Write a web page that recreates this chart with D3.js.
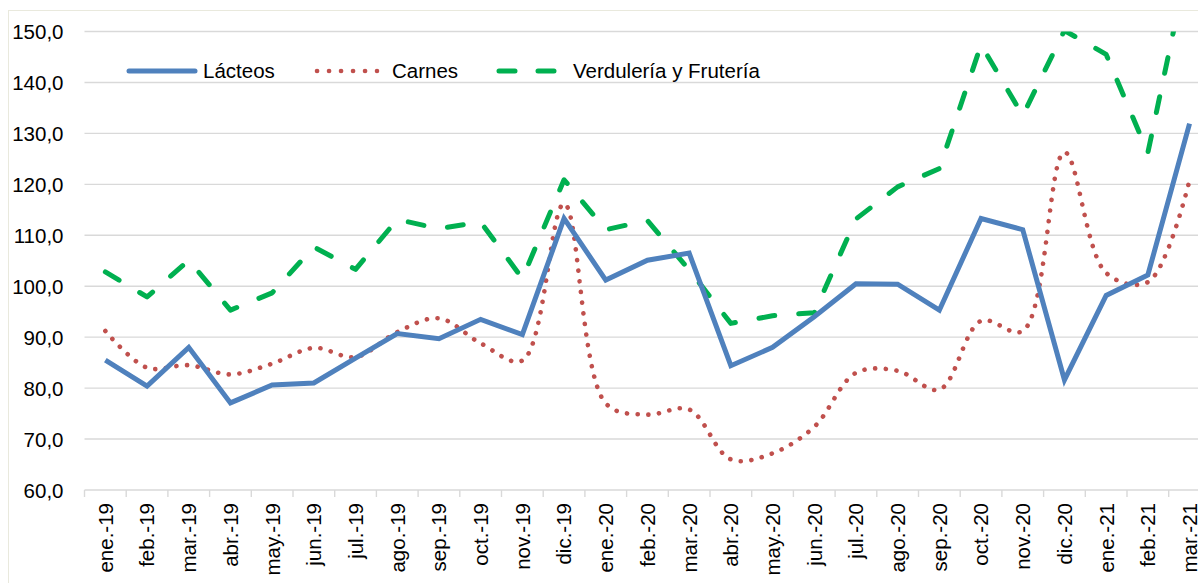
<!DOCTYPE html>
<html>
<head>
<meta charset="utf-8">
<script src="https://cdn.jsdelivr.net/npm/d3@7"></script>
<style>
  html, body { margin: 0; padding: 0; background: #fff; overflow: hidden; }
  svg { display: block; font-family: "Liberation Sans", Arial, Helvetica, sans-serif; }
</style>
</head>
<body>
<svg id="chart" width="1198" height="583"></svg>
<script>
const categories = ["ene.-19","feb.-19","mar.-19","abr.-19","may.-19","jun.-19","jul.-19","ago.-19","sep.-19","oct.-19","nov.-19","dic.-19",
  "ene.-20","feb.-20","mar.-20","abr.-20","may.-20","jun.-20","jul.-20","ago.-20","sep.-20","oct.-20","nov.-20","dic.-20",
  "ene.-21","feb.-21","mar.-21"];
const lacteos = [85.5, 80.4, 88.0, 77.1, 80.6, 81.0, 85.9, 90.7, 89.7, 93.5, 90.5, 113.3,
  101.2, 105.1, 106.5, 84.4, 88.0, 94.0, 100.5, 100.4, 95.3, 113.3, 111.1, 81.6,
  98.2, 102.2, 131.9];
const carnes = [91.2, 84.0, 84.5, 82.7, 84.8, 87.9, 86.1, 91.0, 93.7, 88.8, 85.4, 116.2,
  77.0, 74.8, 75.8, 66.0, 67.2, 72.4, 83.0, 83.4, 79.7, 93.2, 91.2, 126.3,
  102.6, 100.8, 120.8];
const verduleria = [102.8, 97.9, 105.1, 95.3, 98.7, 107.7, 103.3, 113.1, 111.3, 112.6, 101.5, 120.9,
  111.1, 112.9, 103.2, 92.7, 94.2, 94.8, 113.2, 119.5, 123.1, 147.4, 133.5, 150.2,
  145.5, 126.2, 165.0];
const yTicks = [60, 70, 80, 90, 100, 110, 120, 130, 140, 150];
const seriesNames = ["Lácteos", "Carnes", "Verdulería y Frutería"];

(function () {
const svg = d3.select("#chart");
const pLeft = 84.5, pTop = 31.5, pBottom = 490, pRight = 84.5 + 41.7 * categories.length;
const FONT = "20.5px";

// outer chart border
svg.append("rect").attr("x", 8.5).attr("y", 10.5).attr("width", 1300).attr("height", 700)
  .attr("fill", "none").attr("stroke", "#e9e9dd").attr("stroke-width", 1);

const x = d3.scaleBand().domain(categories).range([pLeft, pRight]).padding(0);
const y = d3.scaleLinear().domain([60, 150]).range([pBottom, pTop]);
const fmt = v => d3.format(".1f")(v).replace(".", ",");

// gridlines
svg.append("g").selectAll("line").data(yTicks.slice(1)).join("line")
  .attr("x1", pLeft).attr("x2", pRight)
  .attr("y1", d => y(d)).attr("y2", d => y(d))
  .attr("stroke", "#d9d9d9").attr("stroke-width", 1.4);

// y labels
const yAxis = d3.axisLeft(y).tickValues(yTicks).tickFormat(fmt).tickSize(0).tickPadding(0);
const gy = svg.append("g").attr("transform", `translate(${pLeft - 21},0)`).call(yAxis);
gy.select(".domain").remove();
gy.selectAll("text").attr("font-size", FONT).attr("fill", "#000")
  .attr("font-family", '"Liberation Sans", Arial, sans-serif').attr("dy", "0.35em");

// x axis
const xAxis = d3.axisBottom(x).tickSize(0).tickPadding(0);
const gx = svg.append("g").attr("transform", `translate(0,${pBottom})`).call(xAxis);
gx.select(".domain").attr("stroke", "#d9d9d9").attr("stroke-width", 1.4).attr("d", `M${pLeft},0H${pRight}`);
gx.selectAll(".tick text")
  .attr("font-size", FONT).attr("fill", "#000")
  .attr("font-family", '"Liberation Sans", Arial, sans-serif')
  .attr("text-anchor", "end")
  .attr("transform", "translate(0,13) rotate(-90)")
  .attr("x", 0).attr("y", 0).attr("dy", "0.36em");
// category boundary tick marks
const bounds = categories.map(c => x(c)).concat([pRight]);
svg.append("g").selectAll("line").data(bounds).join("line")
  .attr("x1", d => d).attr("x2", d => d).attr("y1", pBottom).attr("y2", pBottom + 7)
  .attr("stroke", "#d9d9d9").attr("stroke-width", 1.4);

// clip
svg.append("clipPath").attr("id", "plotclip").append("rect")
  .attr("x", pLeft).attr("y", pTop).attr("width", pRight - pLeft).attr("height", pBottom - pTop);

const cx = (d, i) => x(categories[i]) + x.bandwidth() / 2;
const plot = svg.append("g").attr("clip-path", "url(#plotclip)");

const lineStraight = d3.line().x(cx).y(d => y(d));
const lineSmooth = d3.line().x(cx).y(d => y(d)).curve(d3.curveCatmullRom.alpha(0.5));

plot.append("path").datum(verduleria).attr("d", lineStraight)
  .attr("fill", "none").attr("stroke", "#00b050").attr("stroke-width", 5)
  .attr("stroke-linecap", "round").attr("stroke-linejoin", "round")
  .attr("stroke-dasharray", "16,24");
plot.append("path").datum(carnes).attr("d", lineSmooth)
  .attr("fill", "none").attr("stroke", "#c0504d").attr("stroke-width", 4.6)
  .attr("stroke-linecap", "round").attr("stroke-dasharray", "0.1,10.6");
plot.append("path").datum(lacteos).attr("d", lineStraight)
  .attr("fill", "none").attr("stroke", "#4f81bd").attr("stroke-width", 5)
  .attr("stroke-linejoin", "miter").attr("stroke-miterlimit", 3);

// legend
const legendY = 71;
const leg = svg.append("g");
const legItems = [
  {name: seriesNames[0], x1: 129, x2: 195, tx: 203, color: "#4f81bd", dash: null, w: 5},
  {name: seriesNames[1], x1: 317, x2: 377, tx: 392, color: "#c0504d", dash: "0.1,11.9", w: 4.6},
  {name: seriesNames[2], x1: 499, x2: 557, tx: 573, color: "#00b050", dash: "16,23", w: 5}
];
legItems.forEach(it => {
  leg.append("line").attr("x1", it.x1).attr("x2", it.x2).attr("y1", legendY).attr("y2", legendY)
    .attr("stroke", it.color).attr("stroke-width", it.w).attr("stroke-linecap", "round")
    .attr("stroke-dasharray", it.dash);
  leg.append("text").attr("x", it.tx).attr("y", legendY).attr("dy", "0.36em")
    .attr("font-size", FONT).attr("fill", "#000").text(it.name);
});
})();
</script>
</body>
</html>
